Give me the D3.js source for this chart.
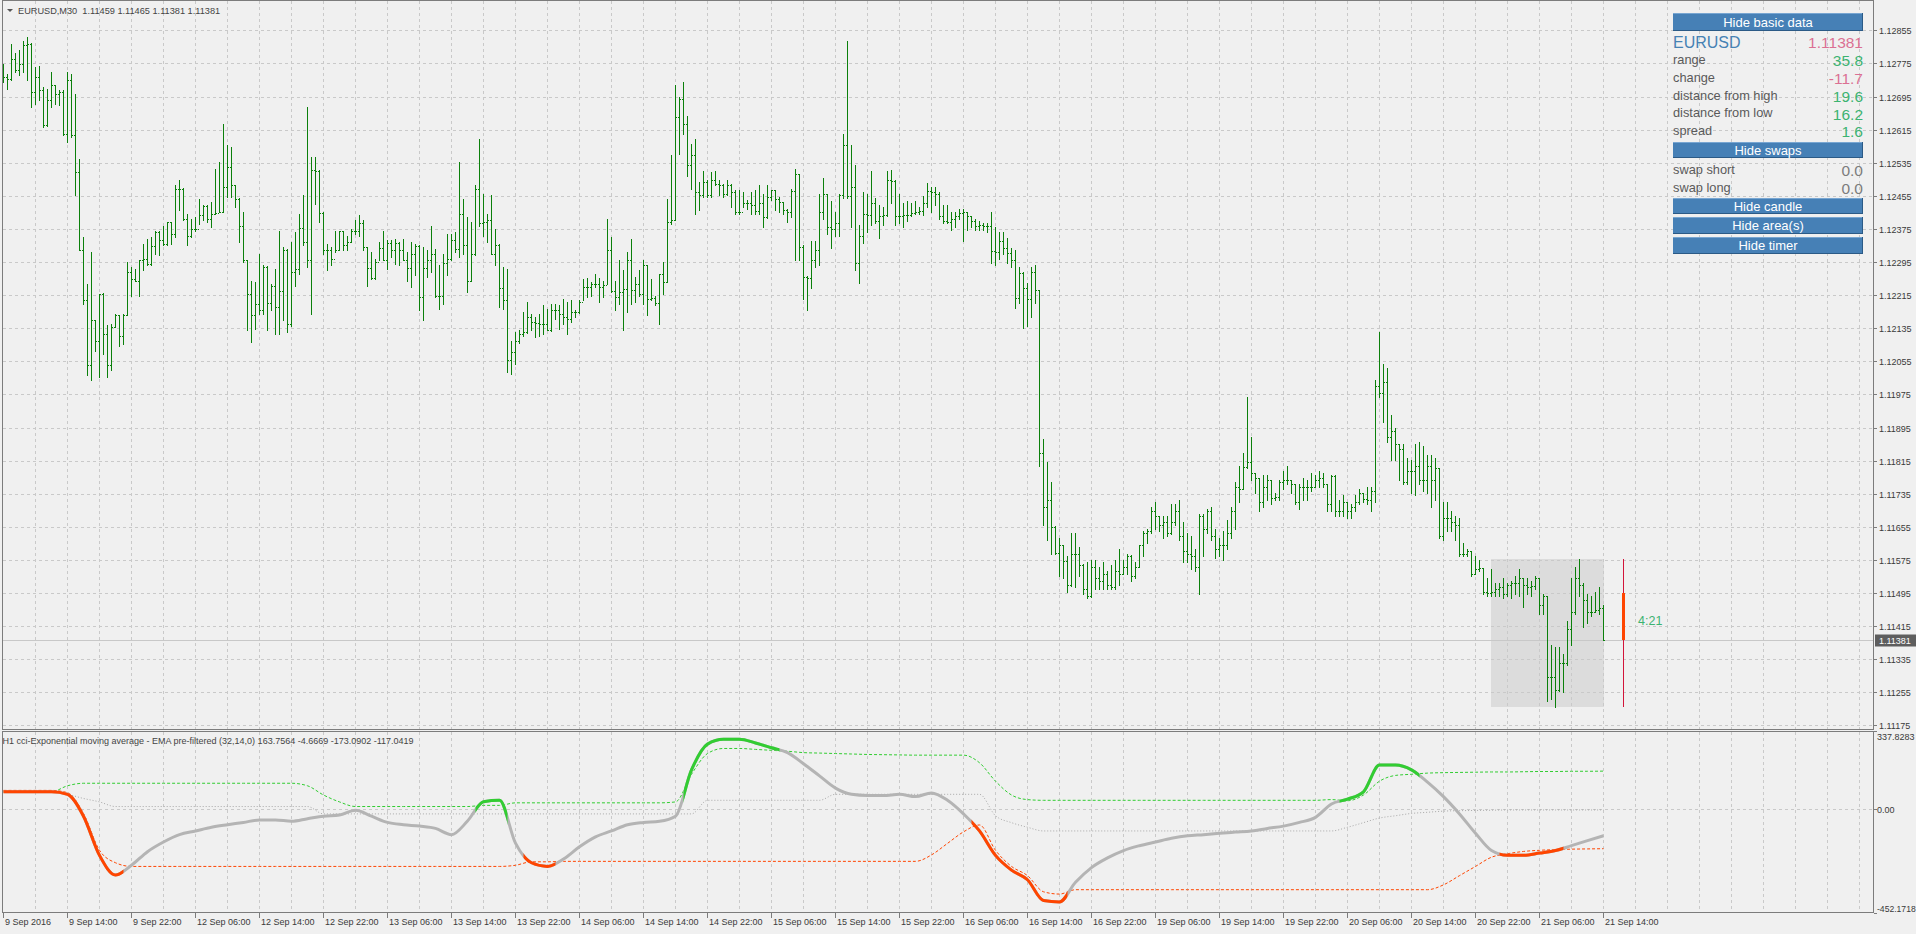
<!DOCTYPE html>
<html><head><meta charset="utf-8">
<script src="https://cdn.jsdelivr.net/npm/d3@7"></script>
<style>
html,body{margin:0;padding:0;background:#f0f0f0;overflow:hidden;}
svg{display:block;font-family:"Liberation Sans",Arial,sans-serif;}
</style></head><body>
<svg id="c" width="1916" height="934"></svg>
<script>
// ---------------- DATA ----------------
const chartTitle = "EURUSD,M30  1.11459 1.11465 1.11381 1.11381";
const indicatorTitle = "H1 cci-Exponential moving average - EMA pre-filtered (32,14,0) 163.7564 -4.6669 -173.0902 -117.0419";

const opens = [
1.12750,1.12742,1.12738,1.12786,1.12758,1.12773,1.12819,1.12823,1.12706,1.12741,1.12711,1.12625,1.12687,1.12722,1.12702,1.12707,1.12605,1.12736,1.12601,1.12512,
1.12323,1.12202,1.12045,1.12154,1.12105,1.12218,1.12122,1.12045,1.12138,1.12166,1.12117,1.12168,1.12271,1.12254,1.12250,1.12299,1.12303,1.12291,1.12333,1.12367,
1.12349,1.12339,1.12392,1.12363,1.12472,1.12472,1.12400,1.12359,1.12375,1.12375,1.12409,1.12430,1.12400,1.12412,1.12414,1.12417,1.12476,1.12525,1.12480,1.12448,
1.12383,1.12299,1.12217,1.12166,1.12194,1.12178,1.12283,1.12196,1.12238,1.12186,1.12226,1.12323,1.12146,1.12271,1.12279,1.12378,1.12343,1.12299,1.12518,1.12516,
1.12414,1.12325,1.12325,1.12303,1.12325,1.12370,1.12337,1.12343,1.12370,1.12370,1.12389,1.12331,1.12281,1.12257,1.12295,1.12329,1.12300,1.12341,1.12323,1.12341,
1.12323,1.12299,1.12281,1.12315,1.12333,1.12210,1.12281,1.12299,1.12315,1.12212,1.12212,1.12293,1.12303,1.12347,1.12327,1.12412,1.12335,1.12250,1.12315,1.12472,
1.12390,1.12392,1.12396,1.12315,1.12335,1.12232,1.12202,1.12059,1.12077,1.12103,1.12122,1.12126,1.12163,1.12150,1.12147,1.12146,1.12144,1.12130,1.12178,1.12178,
1.12170,1.12162,1.12158,1.12174,1.12173,1.12198,1.12234,1.12234,1.12242,1.12242,1.12234,1.12240,1.12323,1.12226,1.12210,1.12222,1.12230,1.12300,1.12228,1.12242,
1.12218,1.12287,1.12206,1.12209,1.12196,1.12267,1.12246,1.12392,1.12396,1.12645,1.12688,1.12629,1.12530,1.12554,1.12464,1.12456,1.12488,1.12456,1.12492,1.12484,
1.12480,1.12460,1.12482,1.12464,1.12416,1.12416,1.12437,1.12437,1.12432,1.12418,1.12437,1.12404,1.12452,1.12468,1.12448,1.12440,1.12420,1.12416,1.12466,1.12507,
1.12331,1.12259,1.12257,1.12300,1.12325,1.12416,1.12460,1.12379,1.12375,1.12389,1.12456,1.12578,1.12454,1.12476,1.12292,1.12357,1.12411,1.12409,1.12438,1.12395,
1.12406,1.12409,1.12494,1.12490,1.12406,1.12406,1.12409,1.12409,1.12413,1.12416,1.12419,1.12438,1.12467,1.12465,1.12460,1.12406,1.12395,1.12391,1.12400,1.12406,
1.12414,1.12416,1.12406,1.12395,1.12381,1.12384,1.12382,1.12382,1.12321,1.12319,1.12346,1.12330,1.12317,1.12300,1.12209,1.12268,1.12233,1.12206,1.12271,1.12228,
1.11833,1.11704,1.11720,1.11655,1.11592,1.11612,1.11572,1.11515,1.11590,1.11590,1.11563,1.11504,1.11488,1.11558,1.11531,1.11525,1.11542,1.11515,1.11509,1.11547,
1.11542,1.11558,1.11585,1.11536,1.11558,1.11610,1.11639,1.11644,1.11693,1.11682,1.11660,1.11666,1.11639,1.11666,1.11693,1.11633,1.11596,1.11590,1.11585,1.11558,
1.11682,1.11650,1.11693,1.11633,1.11601,1.11612,1.11612,1.11639,1.11693,1.11752,1.11747,1.11800,1.11812,1.11785,1.11774,1.11714,1.11752,1.11768,1.11725,1.11727,
1.11763,1.11768,1.11768,1.11758,1.11714,1.11752,1.11752,1.11752,1.11752,1.11768,1.11774,1.11758,1.11709,1.11777,1.11693,1.11693,1.11714,1.11693,1.11704,1.11714,
1.11736,1.11723,1.11720,1.11741,1.11995,1.11979,1.12006,1.11871,1.11887,1.11855,1.11844,1.11763,1.11790,1.11790,1.11801,1.11768,1.11768,1.11801,1.11768,1.11796,
1.11633,1.11677,1.11677,1.11666,1.11660,1.11590,1.11590,1.11596,1.11542,1.11552,1.11555,1.11498,1.11496,1.11498,1.11504,1.11509,1.11493,1.11515,1.11520,1.11520,
1.11531,1.11515,1.11509,1.11511,1.11531,1.11466,1.11488,1.11293,1.11293,1.11261,1.11326,1.11326,1.11407,1.11450,1.11531,1.11515,1.11477,1.11450,1.11450,1.11455,
1.11459];

const highs = [
1.12774,1.12750,1.12823,1.12799,1.12807,1.12828,1.12839,1.12825,1.12766,1.12768,1.12718,1.12714,1.12754,1.12722,1.12710,1.12710,1.12754,1.12750,1.12700,1.12545,
1.12355,1.12242,1.12319,1.12154,1.12218,1.12220,1.12142,1.12146,1.12170,1.12166,1.12170,1.12295,1.12283,1.12279,1.12299,1.12339,1.12351,1.12355,1.12371,1.12371,
1.12383,1.12392,1.12392,1.12480,1.12492,1.12475,1.12412,1.12400,1.12404,1.12448,1.12432,1.12432,1.12440,1.12520,1.12537,1.12628,1.12577,1.12573,1.12482,1.12450,
1.12416,1.12299,1.12250,1.12246,1.12315,1.12287,1.12285,1.12242,1.12279,1.12371,1.12331,1.12327,1.12343,1.12367,1.12412,1.12456,1.12670,1.12549,1.12549,1.12518,
1.12416,1.12339,1.12331,1.12371,1.12371,1.12370,1.12359,1.12375,1.12396,1.12408,1.12396,1.12331,1.12319,1.12303,1.12343,1.12371,1.12347,1.12347,1.12351,1.12343,
1.12351,1.12319,1.12343,1.12339,1.12335,1.12331,1.12323,1.12383,1.12327,1.12287,1.12315,1.12363,1.12363,1.12367,1.12537,1.12448,1.12404,1.12392,1.12480,1.12593,
1.12460,1.12412,1.12456,1.12375,1.12339,1.12283,1.12279,1.12105,1.12126,1.12130,1.12174,1.12198,1.12170,1.12162,1.12170,1.12190,1.12182,1.12194,1.12194,1.12190,
1.12206,1.12198,1.12202,1.12178,1.12202,1.12254,1.12257,1.12246,1.12267,1.12257,1.12250,1.12400,1.12355,1.12250,1.12299,1.12275,1.12319,1.12351,1.12259,1.12275,
1.12299,1.12288,1.12254,1.12214,1.12267,1.12295,1.12448,1.12553,1.12722,1.12694,1.12730,1.12649,1.12581,1.12593,1.12488,1.12516,1.12492,1.12512,1.12516,1.12492,
1.12484,1.12492,1.12484,1.12468,1.12468,1.12464,1.12444,1.12464,1.12468,1.12480,1.12460,1.12480,1.12468,1.12470,1.12452,1.12440,1.12424,1.12472,1.12520,1.12508,
1.12335,1.12260,1.12346,1.12346,1.12460,1.12497,1.12460,1.12443,1.12416,1.12460,1.12605,1.12829,1.12578,1.12530,1.12384,1.12465,1.12460,1.12514,1.12449,1.12433,
1.12427,1.12514,1.12517,1.12492,1.12460,1.12438,1.12443,1.12438,1.12443,1.12427,1.12454,1.12487,1.12476,1.12476,1.12465,1.12433,1.12433,1.12416,1.12416,1.12422,
1.12422,1.12416,1.12406,1.12400,1.12395,1.12389,1.12389,1.12416,1.12379,1.12368,1.12368,1.12352,1.12330,1.12325,1.12282,1.12271,1.12244,1.12282,1.12287,1.12228,
1.11866,1.11812,1.11763,1.11657,1.11628,1.11612,1.11585,1.11639,1.11639,1.11606,1.11565,1.11569,1.11574,1.11574,1.11558,1.11569,1.11547,1.11563,1.11574,1.11601,
1.11574,1.11590,1.11587,1.11569,1.11612,1.11644,1.11650,1.11704,1.11714,1.11682,1.11682,1.11682,1.11709,1.11709,1.11720,1.11666,1.11639,1.11633,1.11601,1.11687,
1.11687,1.11698,1.11704,1.11650,1.11628,1.11644,1.11671,1.11704,1.11763,1.11801,1.11833,1.11968,1.11871,1.11785,1.11774,1.11779,1.11779,1.11768,1.11736,1.11768,
1.11790,1.11801,1.11768,1.11758,1.11758,1.11774,1.11768,1.11785,1.11779,1.11790,1.11785,1.11758,1.11779,1.11779,1.11720,1.11731,1.11715,1.11709,1.11731,1.11747,
1.11736,1.11752,1.11752,1.12011,1.12125,1.12049,1.12038,1.11925,1.11893,1.11855,1.11855,1.11822,1.11817,1.11855,1.11860,1.11850,1.11828,1.11828,1.11822,1.11798,
1.11714,1.11714,1.11693,1.11682,1.11677,1.11617,1.11601,1.11597,1.11585,1.11574,1.11556,1.11531,1.11552,1.11520,1.11520,1.11531,1.11520,1.11525,1.11536,1.11552,
1.11532,1.11531,1.11525,1.11536,1.11532,1.11493,1.11488,1.11369,1.11364,1.11364,1.11347,1.11428,1.11531,1.11558,1.11577,1.11520,1.11493,1.11488,1.11498,1.11509,
1.11465];

const lows = [
1.12730,1.12714,1.12736,1.12754,1.12746,1.12754,1.12734,1.12670,1.12678,1.12686,1.12621,1.12623,1.12670,1.12678,1.12674,1.12601,1.12585,1.12597,1.12456,1.12323,
1.12194,1.12021,1.12009,1.12081,1.12017,1.12073,1.12017,1.12033,1.12138,1.12093,1.12097,1.12166,1.12214,1.12250,1.12214,1.12275,1.12287,1.12287,1.12315,1.12311,
1.12335,1.12335,1.12339,1.12355,1.12420,1.12396,1.12335,1.12355,1.12371,1.12387,1.12396,1.12392,1.12379,1.12412,1.12416,1.12415,1.12452,1.12452,1.12428,1.12343,
1.12295,1.12130,1.12101,1.12134,1.12170,1.12170,1.12130,1.12178,1.12122,1.12122,1.12154,1.12126,1.12140,1.12238,1.12267,1.12335,1.12283,1.12170,1.12436,1.12392,
1.12315,1.12275,1.12287,1.12319,1.12323,1.12323,1.12325,1.12343,1.12363,1.12359,1.12323,1.12238,1.12254,1.12255,1.12299,1.12299,1.12279,1.12307,1.12291,1.12287,
1.12299,1.12250,1.12234,1.12263,1.12178,1.12154,1.12259,1.12271,1.12210,1.12182,1.12194,1.12263,1.12300,1.12319,1.12307,1.12315,1.12222,1.12248,1.12311,1.12383,
1.12359,1.12343,1.12315,1.12287,1.12186,1.12182,1.12029,1.12025,1.12049,1.12100,1.12117,1.12124,1.12130,1.12113,1.12117,1.12122,1.12130,1.12128,1.12158,1.12134,
1.12146,1.12122,1.12150,1.12162,1.12172,1.12202,1.12210,1.12214,1.12234,1.12198,1.12210,1.12242,1.12222,1.12178,1.12194,1.12130,1.12174,1.12194,1.12198,1.12214,
1.12194,1.12166,1.12202,1.12190,1.12146,1.12218,1.12246,1.12387,1.12396,1.12557,1.12605,1.12504,1.12472,1.12412,1.12420,1.12452,1.12452,1.12452,1.12480,1.12456,
1.12452,1.12456,1.12428,1.12412,1.12412,1.12428,1.12424,1.12412,1.12412,1.12412,1.12379,1.12402,1.12444,1.12420,1.12416,1.12412,1.12392,1.12404,1.12299,1.12299,
1.12206,1.12179,1.12233,1.12282,1.12287,1.12400,1.12362,1.12330,1.12357,1.12357,1.12449,1.12449,1.12379,1.12276,1.12244,1.12341,1.12368,1.12384,1.12389,1.12352,
1.12384,1.12405,1.12438,1.12384,1.12389,1.12379,1.12395,1.12406,1.12411,1.12411,1.12409,1.12427,1.12416,1.12433,1.12400,1.12389,1.12389,1.12373,1.12379,1.12400,
1.12346,1.12373,1.12379,1.12373,1.12373,1.12373,1.12368,1.12292,1.12287,1.12303,1.12314,1.12292,1.12282,1.12184,1.12195,1.12136,1.12141,1.12163,1.12195,1.11801,
1.11660,1.11623,1.11590,1.11590,1.11536,1.11531,1.11498,1.11512,1.11509,1.11536,1.11493,1.11482,1.11486,1.11504,1.11504,1.11504,1.11504,1.11504,1.11504,1.11515,
1.11540,1.11542,1.11525,1.11531,1.11558,1.11585,1.11617,1.11639,1.11650,1.11644,1.11628,1.11633,1.11637,1.11660,1.11623,1.11569,1.11569,1.11552,1.11547,1.11493,
1.11585,1.11639,1.11623,1.11580,1.11585,1.11574,1.11601,1.11628,1.11650,1.11714,1.11747,1.11798,1.11768,1.11736,1.11693,1.11704,1.11720,1.11709,1.11720,1.11720,
1.11747,1.11758,1.11736,1.11709,1.11698,1.11720,1.11720,1.11741,1.11752,1.11752,1.11752,1.11693,1.11693,1.11682,1.11682,1.11682,1.11677,1.11677,1.11693,1.11709,
1.11714,1.11709,1.11693,1.11714,1.11968,1.11909,1.11860,1.11817,1.11817,1.11768,1.11758,1.11758,1.11736,1.11731,1.11758,1.11741,1.11736,1.11704,1.11720,1.11628,
1.11623,1.11644,1.11644,1.11623,1.11585,1.11585,1.11585,1.11536,1.11542,1.11547,1.11493,1.11488,1.11488,1.11488,1.11488,1.11482,1.11488,1.11482,1.11493,1.11488,
1.11461,1.11493,1.11488,1.11504,1.11445,1.11445,1.11234,1.11239,1.11219,1.11258,1.11255,1.11320,1.11369,1.11445,1.11488,1.11412,1.11423,1.11439,1.11450,1.11445,
1.11381];

const closes = [
1.12742,1.12738,1.12786,1.12758,1.12773,1.12819,1.12823,1.12706,1.12741,1.12711,1.12625,1.12687,1.12722,1.12702,1.12707,1.12605,1.12736,1.12601,1.12512,1.12323,
1.12202,1.12045,1.12154,1.12105,1.12218,1.12122,1.12045,1.12138,1.12166,1.12117,1.12168,1.12271,1.12254,1.12250,1.12299,1.12303,1.12291,1.12333,1.12367,1.12349,
1.12339,1.12392,1.12363,1.12472,1.12472,1.12400,1.12359,1.12375,1.12375,1.12409,1.12430,1.12400,1.12412,1.12414,1.12417,1.12476,1.12525,1.12480,1.12448,1.12383,
1.12299,1.12217,1.12166,1.12194,1.12178,1.12283,1.12196,1.12238,1.12186,1.12226,1.12323,1.12146,1.12271,1.12279,1.12378,1.12343,1.12299,1.12518,1.12516,1.12414,
1.12325,1.12325,1.12303,1.12325,1.12370,1.12337,1.12343,1.12370,1.12370,1.12389,1.12331,1.12281,1.12257,1.12295,1.12329,1.12300,1.12341,1.12323,1.12341,1.12323,
1.12299,1.12281,1.12315,1.12333,1.12210,1.12281,1.12299,1.12315,1.12212,1.12212,1.12293,1.12303,1.12347,1.12327,1.12412,1.12335,1.12250,1.12315,1.12472,1.12390,
1.12392,1.12396,1.12315,1.12335,1.12232,1.12202,1.12059,1.12077,1.12103,1.12122,1.12126,1.12163,1.12150,1.12147,1.12146,1.12144,1.12130,1.12178,1.12178,1.12170,
1.12162,1.12158,1.12174,1.12173,1.12198,1.12234,1.12234,1.12242,1.12242,1.12234,1.12240,1.12323,1.12226,1.12210,1.12222,1.12230,1.12300,1.12228,1.12242,1.12218,
1.12287,1.12206,1.12209,1.12196,1.12267,1.12246,1.12392,1.12396,1.12645,1.12688,1.12629,1.12530,1.12554,1.12464,1.12456,1.12488,1.12456,1.12492,1.12484,1.12480,
1.12460,1.12482,1.12464,1.12416,1.12416,1.12437,1.12437,1.12432,1.12418,1.12437,1.12404,1.12452,1.12468,1.12448,1.12440,1.12420,1.12416,1.12466,1.12507,1.12331,
1.12259,1.12257,1.12300,1.12325,1.12416,1.12460,1.12379,1.12375,1.12389,1.12456,1.12578,1.12454,1.12476,1.12292,1.12357,1.12411,1.12409,1.12438,1.12395,1.12406,
1.12409,1.12494,1.12490,1.12406,1.12406,1.12409,1.12409,1.12413,1.12416,1.12419,1.12438,1.12467,1.12465,1.12460,1.12406,1.12395,1.12391,1.12400,1.12406,1.12414,
1.12416,1.12406,1.12395,1.12381,1.12384,1.12382,1.12382,1.12321,1.12319,1.12346,1.12330,1.12317,1.12300,1.12209,1.12268,1.12233,1.12206,1.12271,1.12228,1.11833,
1.11704,1.11720,1.11655,1.11592,1.11612,1.11572,1.11515,1.11590,1.11590,1.11563,1.11504,1.11488,1.11558,1.11531,1.11525,1.11542,1.11515,1.11509,1.11547,1.11542,
1.11558,1.11585,1.11536,1.11558,1.11610,1.11639,1.11644,1.11693,1.11682,1.11660,1.11666,1.11639,1.11666,1.11693,1.11633,1.11596,1.11590,1.11585,1.11558,1.11682,
1.11650,1.11693,1.11633,1.11601,1.11612,1.11612,1.11639,1.11693,1.11752,1.11747,1.11800,1.11812,1.11785,1.11774,1.11714,1.11752,1.11768,1.11725,1.11727,1.11763,
1.11768,1.11768,1.11758,1.11714,1.11752,1.11752,1.11752,1.11752,1.11768,1.11774,1.11758,1.11709,1.11777,1.11693,1.11693,1.11714,1.11693,1.11704,1.11714,1.11736,
1.11723,1.11720,1.11741,1.11995,1.11979,1.12006,1.11871,1.11887,1.11855,1.11844,1.11763,1.11790,1.11790,1.11801,1.11768,1.11768,1.11801,1.11768,1.11796,1.11633,
1.11677,1.11677,1.11666,1.11660,1.11590,1.11590,1.11596,1.11542,1.11552,1.11555,1.11498,1.11496,1.11498,1.11504,1.11509,1.11493,1.11515,1.11520,1.11520,1.11531,
1.11515,1.11509,1.11511,1.11531,1.11466,1.11488,1.11293,1.11293,1.11261,1.11326,1.11326,1.11407,1.11450,1.11531,1.11515,1.11477,1.11450,1.11450,1.11455,1.11459,
1.11381];

const priceTicks = [1.12855,1.12775,1.12695,1.12615,1.12535,1.12455,1.12375,1.12295,1.12215,1.12135,1.12055,1.11975,1.11895,1.11815,1.11735,1.11655,1.11575,1.11495,1.11415,1.11335,1.11255,1.11175];
const timeTickBars = [0,16,32,48,64,80,96,112,128,144,160,176,192,208,224,240,256,272,288,304,320,336,352,368,384,400];
const timeTickLabels = ["9 Sep 2016","9 Sep 14:00","9 Sep 22:00","12 Sep 06:00","12 Sep 14:00","12 Sep 22:00","13 Sep 06:00","13 Sep 14:00","13 Sep 22:00","14 Sep 06:00","14 Sep 14:00","14 Sep 22:00","15 Sep 06:00","15 Sep 14:00","15 Sep 22:00","16 Sep 06:00","16 Sep 14:00","16 Sep 22:00","19 Sep 06:00","19 Sep 14:00","19 Sep 22:00","20 Sep 06:00","20 Sep 14:00","20 Sep 22:00","21 Sep 06:00","21 Sep 14:00"];
const lastPrice = 1.11381;
const dayStartBar = 372;      // 21 Sep 00:00
const timerText = "4:21";

// indicator, read every 4 bars (bar index = 4*k)
const indStep = 4;
const cciValues = [
74,74,74,74,63,-32,-202,-287,-245,-186,
-144,-112,-96,-80,-69,-59,-48,-48,-54,-43,
-32,-27,-6,-32,-59,-69,-75,-85,-112,-53,
31,37,-149,-234,-250,-218,-165,-122,-96,-69,
-59,-54,-32,169,281,302,302,286,265,244,
196,143,90,63,58,58,63,53,69,37,
-22,-96,-202,-266,-308,-398,-404,-319,-255,-213,
-181,-160,-144,-128,-117,-112,-106,-101,-96,-85,
-75,-59,-37,21,42,74,190,190,169,116,
53,-22,-106,-181,-202,-202,-192,-181,-160,-138,
-117.0419];
const upperLevel = [
74,74,74,74,100,111,111,111,111,111,
111,111,111,111,111,111,111,111,111,100,
60,30,10,10,10,10,10,10,10,10,
15,15,26,26,26,26,26,26,26,26,
26,26,30,150,240,262,262,258,254,250,
244,242,240,238,236,235,234,233,233,233,
233,200,120,60,40,37,37,37,37,37,
37,37,37,37,37,37,37,37,37,37,
37,37,37,40,35,60,120,145,150,155,
157,158,159,160,160,161,162,162,163,163,
163.7564];
const middleLevel = [
74,74,74,74,63,45,30,10,10,10,
10,10,10,10,10,10,10,10,10,10,
-22,-22,-22,-22,-22,-22,-22,-22,-22,-22,
-22,-22,-22,-22,-22,-22,-22,-22,-22,-22,
-22,-22,-22,-22,37,37,37,37,37,37,
37,37,63,63,63,63,63,63,63,63,
63,63,-30,-60,-80,-96,-96,-96,-96,-96,
-96,-96,-96,-96,-96,-96,-96,-96,-96,-96,
-96,-96,-96,-96,-80,-60,-40,-30,-20,-15,
-10,-8,-7,-6,-5,-5,-5,-5,-5,-5,
-4.6669];
const lowerLevel = [
80,80,80,80,70,-20,-180,-234,-250,-250,
-250,-250,-250,-250,-250,-250,-250,-250,-250,-250,
-250,-250,-250,-250,-250,-250,-250,-250,-250,-250,
-250,-250,-245,-230,-230,-228,-228,-228,-228,-228,
-228,-228,-228,-228,-228,-228,-228,-228,-228,-228,
-228,-228,-228,-228,-228,-228,-228,-228,-200,-150,
-100,-70,-180,-250,-290,-360,-370,-351,-351,-351,
-351,-351,-351,-351,-351,-351,-351,-351,-351,-351,
-351,-351,-351,-351,-351,-351,-351,-351,-351,-351,
-330,-290,-250,-210,-195,-185,-180,-177,-175,-174,
-173.0902];
const indTicks = ["337.8283","0.00","-452.1718"];
const indTickValues = [337.8283, 0, -452.1718];

const infoSymbol = "EURUSD", infoPrice = "1.11381";
const infoLabels = ["range","change","distance from high","distance from low","spread"];
const infoValues = ["35.8","-11.7","19.6","16.2","1.6"];
const infoValueUp = [true,false,true,true,true];
const swapLabels = ["swap short","swap long"];
const swapValues = ["0.0","0.0"];
const buttonLabels = ["Hide basic data","Hide swaps","Hide candle","Hide area(s)","Hide timer"];

// ---------------- DRAW ----------------
const svg = d3.select("#c");
const L = 2.5, R = 1873.5, mainTop = 0.5, mainBot = 729.5, indTop = 731.5, indBot = 912.5;
const x = d3.scaleLinear().domain([0, 400]).range([3.5, 1603.5]);
const y = d3.scaleLinear().domain([1.12855, 1.11175]).range([30.3, 725.4]);
const yi = d3.scaleLinear().domain([337.8283, -452.1718]).range([731, 913]);
const gridCol = "#c9c9c9", axisTxt = "#3a3a3a", frameCol = "#7c7c7c";
const green = "#0b800b";

const g = svg.append("g").attr("shape-rendering","crispEdges");

// area of the day
const n = closes.length;
const dayHigh = d3.max(highs.slice(dayStartBar)), dayLow = d3.min(lows.slice(dayStartBar));
g.append("rect").attr("x", x(dayStartBar)-0.5).attr("width", x(n-1)-x(dayStartBar)+1)
  .attr("y", Math.round(y(dayHigh))).attr("height", Math.round(y(dayLow))-Math.round(y(dayHigh)))
  .attr("fill","#dcdcdc");

// vertical grid
const vgrid = d3.range(8, 468, 8);
g.selectAll(".vg").data(vgrid).enter().append("line")
  .attr("x1", d=>x(d)).attr("x2", d=>x(d)).attr("y1", mainTop).attr("y2", mainBot)
  .attr("stroke", gridCol).attr("stroke-dasharray","3,3");
g.selectAll(".vg2").data(vgrid).enter().append("line")
  .attr("x1", d=>x(d)).attr("x2", d=>x(d)).attr("y1", indTop).attr("y2", indBot)
  .attr("stroke", gridCol).attr("stroke-dasharray","3,3");
g.selectAll(".hg").data(priceTicks).enter().append("line")
  .attr("x1", L).attr("x2", R).attr("y1", d=>Math.round(y(d))+0.5).attr("y2", d=>Math.round(y(d))+0.5)
  .attr("stroke", gridCol).attr("stroke-dasharray","3,3");
g.append("line").attr("x1",L).attr("x2",R).attr("y1",Math.round(yi(0))+0.5).attr("y2",Math.round(yi(0))+0.5)
  .attr("stroke",gridCol).attr("stroke-dasharray","3,3");

// last price line
g.append("line").attr("x1",L).attr("x2",R).attr("y1",Math.round(y(lastPrice))+0.5).attr("y2",Math.round(y(lastPrice))+0.5)
  .attr("stroke","#c8c8c8");

// bars
const bars = g.append("g").attr("fill", green);
d3.range(n).forEach(i=>{
  const xc = x(i)-0.5;
  const yh = Math.round(y(highs[i])), yl = Math.round(y(lows[i]));
  bars.append("rect").attr("x", xc).attr("y", yh).attr("width",1).attr("height", Math.max(1, yl-yh+1));
  bars.append("rect").attr("x", xc-1).attr("y", Math.round(y(opens[i]))).attr("width",1).attr("height",1);
  bars.append("rect").attr("x", xc+1).attr("y", Math.round(y(closes[i]))).attr("width",1).attr("height",1);
});

// day candle
const cx = x(n-1+5);
const dayOpen = opens[dayStartBar], dayClose = closes[n-1];
g.append("rect").attr("x", cx-0.5).attr("width",1).attr("y", Math.round(y(dayHigh))).attr("height", Math.round(y(dayLow))-Math.round(y(dayHigh)))
  .attr("fill","#d2143a");
g.append("rect").attr("x", cx-1.5).attr("width",3).attr("y", Math.round(y(Math.max(dayOpen,dayClose))))
  .attr("height", Math.abs(Math.round(y(dayOpen))-Math.round(y(dayClose)))).attr("fill","#ff4500");
svg.append("text").attr("x", 1638).attr("y", 625).attr("font-size","12.5px").attr("fill","#3cb371").text(timerText);

// ---------- indicator ----------
const xs = cciValues.map((d,k)=>x(k*indStep));
const mk = arr => d3.line().x((d,k)=>xs[k]).y(d=>yi(d)).curve(d3.curveMonotoneX)(arr);
svg.append("path").attr("d", mk(middleLevel)).attr("fill","none").attr("stroke","#a8a8a8").attr("stroke-width",1).attr("stroke-dasharray","1,2");
svg.append("path").attr("d", mk(upperLevel)).attr("fill","none").attr("stroke","#32cd32").attr("stroke-width",1).attr("stroke-dasharray","3,2");
svg.append("path").attr("d", mk(lowerLevel)).attr("fill","none").attr("stroke","#ff4500").attr("stroke-width",1).attr("stroke-dasharray","3,2");
const cciPath = mk(cciValues);
svg.append("path").attr("d", cciPath).attr("fill","none").attr("stroke","#b4b4b4").attr("stroke-width",3);
const state = cciValues.map((v,k)=> v>upperLevel[k] ? "g" : (v<lowerLevel[k] ? "r" : "n"));
const defs = svg.append("defs");
let runs = [], k0 = null;
state.forEach((s,k)=>{
  if (k0===null || state[k0]!==s) { if (k0!==null) runs.push([k0,k-1,state[k0]]); k0 = k; }
});
runs.push([k0, state.length-1, state[k0]]);
const half = (xs[1]-xs[0])/2;
runs.filter(r=>r[2]!=="n").forEach((r,j)=>{
  const id = "clip"+j;
  const x0 = r[0]===0 ? 0 : xs[r[0]]-half, x1 = xs[r[1]]+half;
  defs.append("clipPath").attr("id",id).append("rect").attr("x",x0).attr("y",indTop).attr("width",x1-x0).attr("height",indBot-indTop);
  svg.append("path").attr("d", cciPath).attr("fill","none").attr("stroke", r[2]==="g" ? "#32cd32" : "#ff4500")
    .attr("stroke-width",3).attr("clip-path","url(#"+id+")");
});

// ---------- frames ----------
const f = svg.append("g").attr("shape-rendering","crispEdges").attr("stroke",frameCol).attr("fill","none");
f.append("rect").attr("x",L).attr("y",mainTop).attr("width",R-L).attr("height",mainBot-mainTop);
f.append("rect").attr("x",L).attr("y",indTop).attr("width",R-L).attr("height",indBot-indTop);

// ---------- axes ----------
const ax = svg.append("g").attr("font-size","9px").attr("fill",axisTxt);
priceTicks.forEach(p=>{
  const yy = Math.round(y(p))+0.5;
  ax.append("line").attr("x1",R).attr("x2",R+3).attr("y1",yy).attr("y2",yy).attr("stroke",frameCol).attr("shape-rendering","crispEdges");
  ax.append("text").attr("x",1879).attr("y",yy+3.5).text(p.toFixed(5));
});
const ly = Math.round(y(lastPrice))+0.5;
svg.append("rect").attr("x",1875).attr("y",ly-6).attr("width",41).attr("height",12).attr("fill","#5e5e5e");
svg.append("text").attr("x",1879).attr("y",ly+3.5).attr("font-size","9px").attr("fill","#ffffff").text(lastPrice.toFixed(5));
indTicks.forEach((t,k)=>{
  const yy = Math.round(yi(indTickValues[k]))+0.5;
  const ty = k===0 ? yy+8 : (k===2 ? yy-2 : yy+3.5);
  ax.append("line").attr("x1",R).attr("x2",R+3).attr("y1",yy).attr("y2",yy).attr("stroke",frameCol).attr("shape-rendering","crispEdges");
  ax.append("text").attr("x",1877).attr("y",ty).attr("font-size", k===2 ? "8.6px" : "9px").text(t);
});
timeTickBars.forEach((b,k)=>{
  const xx = x(b);
  ax.append("line").attr("x1",xx).attr("x2",xx).attr("y1",indBot).attr("y2",indBot+5).attr("stroke",frameCol).attr("shape-rendering","crispEdges");
  ax.append("text").attr("x",xx+1.5).attr("y",925).text(timeTickLabels[k]);
});

// ---------- titles ----------
svg.append("path").attr("d","M7,9 L13,9 L10,12 Z").attr("fill","#555");
svg.append("text").attr("x",18).attr("y",14).attr("font-size","9.2px").attr("fill","#444").style("white-space","pre").text(chartTitle);
svg.append("text").attr("x",2.5).attr("y",743.5).attr("font-size","9px").attr("fill","#444").text(indicatorTitle);

// ---------- info panel ----------
const bx = 1673, bw = 190;
function button(label, y0, y1){
  const b = svg.append("g").attr("shape-rendering","crispEdges");
  b.append("rect").attr("x",bx).attr("y",y0).attr("width",bw).attr("height",y1-y0).attr("fill","#4680b6");
  b.append("line").attr("x1",bx).attr("x2",bx+bw).attr("y1",y0+0.5).attr("y2",y0+0.5).attr("stroke","#78a6d2");
  b.append("line").attr("x1",bx+bw-0.5).attr("x2",bx+bw-0.5).attr("y1",y0).attr("y2",y1).attr("stroke","#2b5a86");
  b.append("line").attr("x1",bx).attr("x2",bx+bw).attr("y1",y1-0.5).attr("y2",y1-0.5).attr("stroke","#2b5a86");
  svg.append("text").attr("x",bx+bw/2).attr("y",(y0+y1)/2+4.5).attr("text-anchor","middle").attr("font-size","13px").attr("fill","#ffffff").text(label);
}
const btnY = [[13,31],[142,158],[198,214],[217,234],[237,254]];
buttonLabels.forEach((t,k)=>button(t, btnY[k][0], btnY[k][1]));
svg.append("text").attr("x",bx).attr("y",48).attr("font-size","16px").attr("fill","#4682b4").text(infoSymbol);
svg.append("text").attr("x",bx+bw).attr("y",48).attr("text-anchor","end").attr("font-size","15.5px").attr("fill","#db7093").text(infoPrice);
const rowY = [63.5, 81.5, 99.5, 117, 134.5];
infoLabels.forEach((t,k)=>{
  svg.append("text").attr("x",bx).attr("y",rowY[k]).attr("font-size","12.8px").attr("fill","#5a5a5a").text(t);
  svg.append("text").attr("x",bx+bw).attr("y",rowY[k]+2.5).attr("text-anchor","end").attr("font-size","15.5px")
    .attr("fill", infoValueUp[k] ? "#3cb371" : "#db7093").text(infoValues[k]);
});
const swapY = [174, 191.5];
swapLabels.forEach((t,k)=>{
  svg.append("text").attr("x",bx).attr("y",swapY[k]).attr("font-size","12.8px").attr("fill","#5a5a5a").text(t);
  svg.append("text").attr("x",bx+bw).attr("y",swapY[k]+2).attr("text-anchor","end").attr("font-size","15.5px").attr("fill","#7c7c7c").text(swapValues[k]);
});
</script>
</body></html>
